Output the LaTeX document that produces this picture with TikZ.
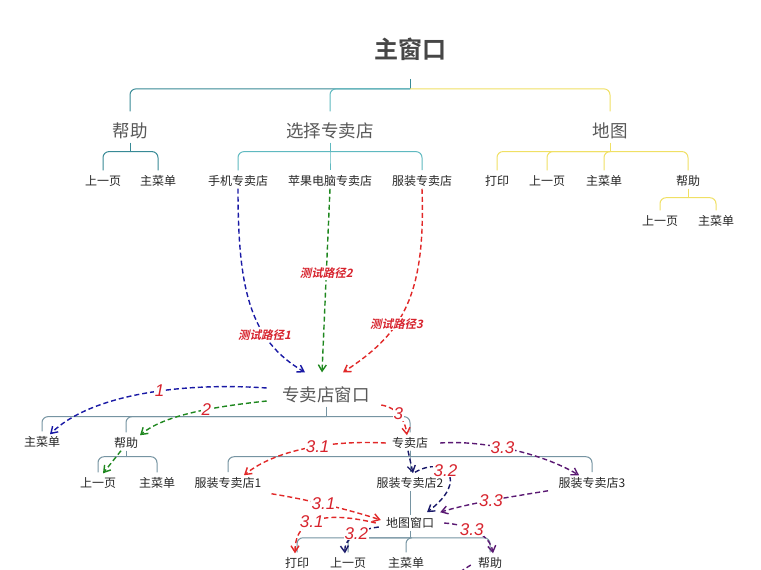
\documentclass[tikz,border=0pt]{standalone}
\usepackage{fontspec}
\setmainfont{Noto Sans CJK SC}
\newfontfamily\titlefont{Noto Sans CJK SC Bold}
\newfontfamily\tagfont[FakeSlant=0.22]{Noto Sans CJK SC Bold}
\newfontfamily\numfont{Liberation Sans}
\usetikzlibrary{arrows.meta}
\definecolor{ink}{RGB}{70,70,70}
\definecolor{teal1}{RGB}{56,138,150}
\definecolor{tealL}{RGB}{95,185,192}
\definecolor{sun}{RGB}{240,224,100}
\definecolor{slate}{RGB}{118,148,162}
\definecolor{pblue}{RGB}{25,25,165}
\definecolor{pgreen}{RGB}{30,135,30}
\definecolor{pred}{RGB}{225,40,40}
\definecolor{pnavy}{RGB}{25,25,105}
\definecolor{pplum}{RGB}{90,25,115}
\definecolor{tagred}{RGB}{215,35,45}
\tikzset{
  >={Straight Barb[length=2.2mm,width=2.8mm]},
  head/.style={font=\titlefont\fontsize{24}{24}\selectfont,text=ink},
  branch/.style={font=\fontsize{17.5}{17.5}\selectfont,text=ink!90},
  leaf/.style={font=\fontsize{12}{12}\selectfont,text=black!85,inner sep=2pt},
  tree/.style={draw=#1,line width=1pt,rounded corners=6pt},
  tree/.default=slate,
  route/.style={->,draw=#1,line width=1.4pt,dash pattern=on 5pt off 3pt},
  route/.default=pred,
  tag/.style={font=\tagfont\fontsize{11.5}{11.5}\selectfont,text=tagred,fill=white,inner sep=1pt},
  num/.style={font=\numfont\itshape\fontsize{17}{17}\selectfont,text=tagred,fill=white,inner sep=0.5pt},
}

\begin{document}
\begin{tikzpicture}[x=1pt,y=-1pt]
  \useasboundingbox[fill=white] (0,0) rectangle (761,570);

  % main window
  \node[head] (main) at (410,49) {主窗口};
  \node[branch] (help) at (130,131) {帮助};
  \node[branch] (shop) at (330,131) {选择专卖店};
  \node[branch] (map) at (610,131) {地图};
  \foreach \n/\x/\t in {help-back/103/上一页, help-menu/158/主菜单,
      phone/238/手机专卖店, apple/330/苹果电脑专卖店, cloth/422/服装专卖店,
      map-print/497/打印, map-back/547/上一页, map-menu/604/主菜单, map-help/688/帮助}
    \node[leaf] (\n) at (\x,181) {\t};
  \node[leaf] (mh-back) at (660,221) {上一页};
  \node[leaf] (mh-menu) at (716,221) {主菜单};

  \draw[tree=teal1] ([yshift=-15pt]main.south) -- ++(0,10) coordinate (j0);
  \draw[tree=teal1] (j0) -| ([yshift=8pt]help.north);
  \draw[tree=tealL] (j0) -| ([yshift=8pt]shop.north);
  \draw[tree=sun] (j0) -| ([yshift=8pt]map.north);

  \draw[tree=teal1] (help.south) -- ++(0,9) coordinate (j1);
  \foreach \c in {help-back,help-menu} \draw[tree=teal1] (j1) -| ([yshift=3pt]\c.north);
  \draw[tree=tealL] (shop.south) -- ++(0,9) coordinate (j2);
  \foreach \c in {phone,apple,cloth} \draw[tree=tealL] (j2) -| ([yshift=3pt]\c.north);
  \draw[tree=sun] (map.south) -- ++(0,9) coordinate (j3);
  \foreach \c in {map-print,map-back,map-menu,map-help} \draw[tree=sun] (j3) -| ([yshift=3pt]\c.north);
  \draw[tree=sun] (map-help.south) -- ++(0,9) coordinate (j4);
  \foreach \c in {mh-back,mh-menu} \draw[tree=sun] (j4) -| ([yshift=3pt]\c.north);

  % store window
  \node[branch] (win) at (326,395) {专卖店窗口};
  \node[leaf] (w-menu) at (42,442) {主菜单};
  \node[leaf] (w-help) at (126,443) {帮助};
  \node[leaf] (w-store) at (410,443) {专卖店};
  \foreach \n/\x/\t in {wh-back/98/上一页, wh-menu/157/主菜单,
      store1/228/服装专卖店1, store2/410/服装专卖店2, store3/592/服装专卖店3}
    \node[leaf] (\n) at (\x,483) {\t};
  \node[leaf] (mapwin) at (410,523) {地图窗口};
  \foreach \n/\x/\t in {mw-print/297/打印, mw-back/348/上一页, mw-menu/406/主菜单, mw-help/490/帮助}
    \node[leaf] (\n) at (\x,563) {\t};

  \draw[tree] (win.south) -- ++(0,10) coordinate (j5);
  \foreach \c in {w-menu,w-help,w-store} \draw[tree] (j5) -| ([yshift=3pt]\c.north);
  \draw[tree] (w-help.south) -- ++(0,6) coordinate (j6);
  \foreach \c in {wh-back,wh-menu} \draw[tree] (j6) -| ([yshift=3pt]\c.north);
  \draw[tree] (w-store.south) -- ++(0,6) coordinate (j7);
  \foreach \c in {store1,store2,store3} \draw[tree] (j7) -| ([yshift=3pt]\c.north);
  \draw[tree] (store2.south) -- (mapwin.north);
  \draw[tree] (mapwin.south) -- ++(0,7) coordinate (j8);
  \foreach \c in {mw-print,mw-back,mw-menu,mw-help} \draw[tree] (j8) -| ([yshift=3pt]\c.north);

  % test paths
  \draw[route=pblue] (phone.south) .. controls (238,290) and (250,340) .. ([xshift=-21pt,yshift=11pt]win.north)
    node[tag,pos=0.68] {测试路径1};
  \draw[route=pgreen] (apple.south) -- ([xshift=-4pt,yshift=11pt]win.north)
    node[tag,pos=0.46] {测试路径2};
  \draw[route=pred] (cloth.south) .. controls (426,300) and (400,335) .. ([xshift=17pt,yshift=11pt]win.north)
    node[tag,pos=0.6] {测试路径3};

  \draw[route=pblue] ([xshift=-12pt,yshift=7pt]win.west) .. controls (180,382) and (90,395) .. ([xshift=8pt]w-menu.north)
    node[num,pos=0.42] {1};
  \draw[route=pgreen] ([xshift=-12pt,yshift=-6pt]win.west) .. controls (220,406) and (165,414) .. ([xshift=14pt]w-help.north)
    node[num,pos=0.42] {2};
  \draw[route=pred] ([xshift=8pt,yshift=-10pt]win.east) .. controls (398,408) and (405,420) .. ([xshift=-3pt]w-store.north)
    node[num,pos=0.45] {3};
  \draw[route=pgreen] ([xshift=-5pt]w-help.south) -- ([xshift=5pt,yshift=2pt]wh-back.north);

  \draw[route] ([xshift=-4pt]w-store.west) .. controls (330,440) and (275,450) .. ([xshift=16pt]store1.north)
    node[num,pos=0.42] {3.1};
  \draw[route=pplum] ([xshift=10pt]w-store.east) .. controls (480,440) and (540,452) .. ([xshift=-13pt]store3.north)
    node[num,pos=0.45] {3.3};
  \draw[route=pnavy] ([xshift=-2pt]w-store.south) -- ([xshift=3pt,yshift=2pt]store2.north);
  \draw[route=pnavy] ([xshift=5pt,yshift=3pt]store2.north) .. controls (445,455) and (470,480) .. ([xshift=17pt,yshift=3pt]mapwin.north)
    node[num,pos=0.42] {3.2};

  \draw[route] ([xshift=8pt,yshift=-3pt]store1.south east) .. controls (310,500) and (350,510) .. ([xshift=-3pt,yshift=3pt]mapwin.west)
    node[num,pos=0.45] {3.1};
  \draw[route=pplum] ([xshift=-44pt]store3.south) .. controls (510,497) and (470,503) .. ([xshift=4pt,yshift=3pt]mapwin.north east)
    node[num,pos=0.5] {3.3};

  \draw[route] ([xshift=-8pt]mapwin.west) .. controls (330,512) and (295,515) .. ([xshift=-2pt,yshift=2pt]mw-print.north)
    node[num,pos=0.58] {3.1};
  \draw[route=pnavy] ([xshift=-5pt,yshift=-4pt]mapwin.west) .. controls (355,530) and (344,540) .. ([xshift=-3pt,yshift=2pt]mw-back.north)
    node[num,pos=0.4] {3.2};
  \draw[route=pplum] ([xshift=8pt]mapwin.east) .. controls (470,525) and (490,535) .. ([xshift=3pt,yshift=2pt]mw-help.north)
    node[num,pos=0.4] {3.3};
  \coordinate (off) at (452,577);
  \draw[route=pplum,-] ([xshift=-5pt,yshift=-2pt]mw-help.west) -- (off);
\end{tikzpicture}
\end{document}
